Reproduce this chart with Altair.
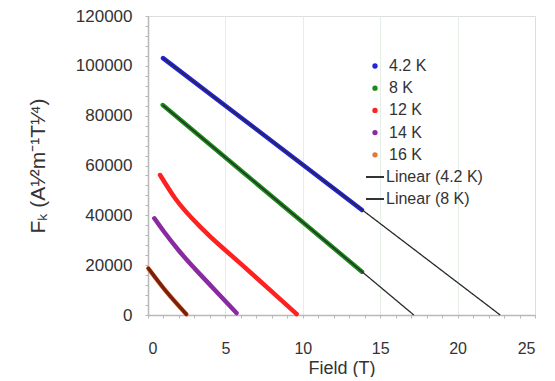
import altair as alt
import pandas as pd

# ---- data ----
series_names = ["4.2 K", "8 K", "12 K", "14 K", "16 K"]
series_colors = ["#2222dd", "#1a8a1a", "#ff2020", "#8a2aa0", "#e07a3a"]

field_42 = [0.97, 5.0, 10.0, 13.82]
fk_42 = [103100, 84000, 60300, 42140]

field_8 = [0.95, 5.0, 10.0, 13.82]
fk_8 = [84270, 63200, 37200, 17380]

field_12 = [0.78, 1.75, 3.69, 5.84, 8.0, 9.6]
fk_12 = [56180, 46830, 33430, 21400, 9400, 400]

field_14 = [0.41, 1.0, 1.96, 4.12, 5.72]
fk_14 = [38800, 33700, 26080, 11360, 800]

field_16 = [0.02, 1.1, 2.48]
fk_16 = [18740, 10030, 300]

fit_names = ["Linear (4.2 K)", "Linear (8 K)"]
fit_field_42 = [0.97, 22.75]
fit_fk_42 = [103100, 0]
fit_field_8 = [0.95, 17.17]
fit_fk_8 = [84270, 0]

# ---- tables ----
rows = []
for name, xs, ys in zip(series_names,
                        [field_42, field_8, field_12, field_14, field_16],
                        [fk_42, fk_8, fk_12, fk_14, fk_16]):
    for x, y in zip(xs, ys):
        rows.append({"series": name, "field": x, "fk": y})
df = pd.DataFrame(rows)

fit_rows = []
for name, xs, ys in zip(fit_names, [fit_field_42, fit_field_8], [fit_fk_42, fit_fk_8]):
    for x, y in zip(xs, ys):
        fit_rows.append({"fit": name, "field": x, "fk": y})
fit_df = pd.DataFrame(fit_rows)

FONT = "Liberation Sans"
W, H = 387, 299

x_axis = alt.Axis(
    values=list(range(0, 26)),
    labelExpr="datum.value % 5 === 0 ? datum.label : ''",
    labelOverlap=False,
    tickSize=3, tickColor="#b8b8b8", domainColor="#b8b8b8", domainWidth=1.5,
    labelFont=FONT, labelFontSize=16, labelColor="#333333", labelPadding=22,
    title="Field (T)", titleFont=FONT, titleFontSize=18, titleFontWeight="normal",
    titleColor="#333333", titleY=53, titleBaseline="middle",
    grid=True, gridColor="#e4eee4",
    gridOpacity={"condition": {"test": "datum.value % 5 === 0 && datum.value > 0 && datum.value < 25", "value": 1}, "value": 0},
)
y_axis = alt.Axis(
    values=list(range(0, 120001, 4000)),
    format="d",
    labelExpr="datum.value % 20000 === 0 ? datum.label : ''",
    labelOverlap=False,
    tickSize=3, tickColor="#b8b8b8", domainColor="#b8b8b8", domainWidth=1.5,
    labelFont=FONT, labelFontSize=17, labelColor="#333333", labelPadding=13,
    title="Fₖ (A¹⁄²m⁻¹T¹⁄⁴)", titleFont=FONT, titleFontSize=21, titleFontWeight="normal",
    titleColor="#333333", titleX=-110, titleY=H / 2, titleAngle=-90,
    titleAlign="center", titleBaseline="middle",
    grid=False,
)

xenc = alt.X("field:Q", scale=alt.Scale(domain=[0, 25], nice=False), axis=x_axis)
yenc = alt.Y("fk:Q", scale=alt.Scale(domain=[0, 120000], nice=False), axis=y_axis)

data_lines = alt.Chart(df).mark_line(strokeWidth=4.5, strokeCap="round", interpolate="monotone").encode(
    x=xenc, y=yenc,
    color=alt.Color("series:N",
                    scale=alt.Scale(domain=series_names, range=series_colors),
                    legend=alt.Legend(title=None, orient="none", legendX=219, legendY=42,
                                      symbolType="circle", symbolSize=8, symbolStrokeWidth=2.5,
                                      labelFont=FONT, labelFontSize=16, labelColor="#333333",
                                      labelOffset=6, rowPadding=6.2, padding=0)),
)

brown_overlay = alt.Chart(df).transform_filter(alt.datum.series == "16 K").mark_line(
    strokeWidth=3.5, color="#7a1f10", strokeCap="round", interpolate="monotone"
).encode(x=xenc, y=yenc)

fit_lines = alt.Chart(fit_df).mark_line(strokeWidth=1.3, color="#2a2a2a").encode(
    x=xenc, y=yenc,
    strokeDash=alt.StrokeDash("fit:N",
                              scale=alt.Scale(domain=fit_names, range=[[1, 0], [1, 0]]),
                              legend=alt.Legend(title=None, orient="none", legendX=217, legendY=151,
                                                symbolType="stroke", symbolSize=324,
                                                symbolStrokeColor="#333333", symbolStrokeWidth=2,
                                                labelFont=FONT, labelFontSize=16, labelColor="#333333",
                                                labelOffset=1, rowPadding=4, padding=0)),
)

chart = alt.layer(data_lines, brown_overlay, fit_lines).properties(
    width=W, height=H,
    autosize=alt.AutoSizeParams(type="none"),
    padding={"left": 140, "top": 8, "right": 12, "bottom": 62},
).configure_view(stroke="#c0c0c0", strokeWidth=1.5).configure(background="white")

chart.save("out.html", embed_options={"renderer": "svg", "actions": False})
